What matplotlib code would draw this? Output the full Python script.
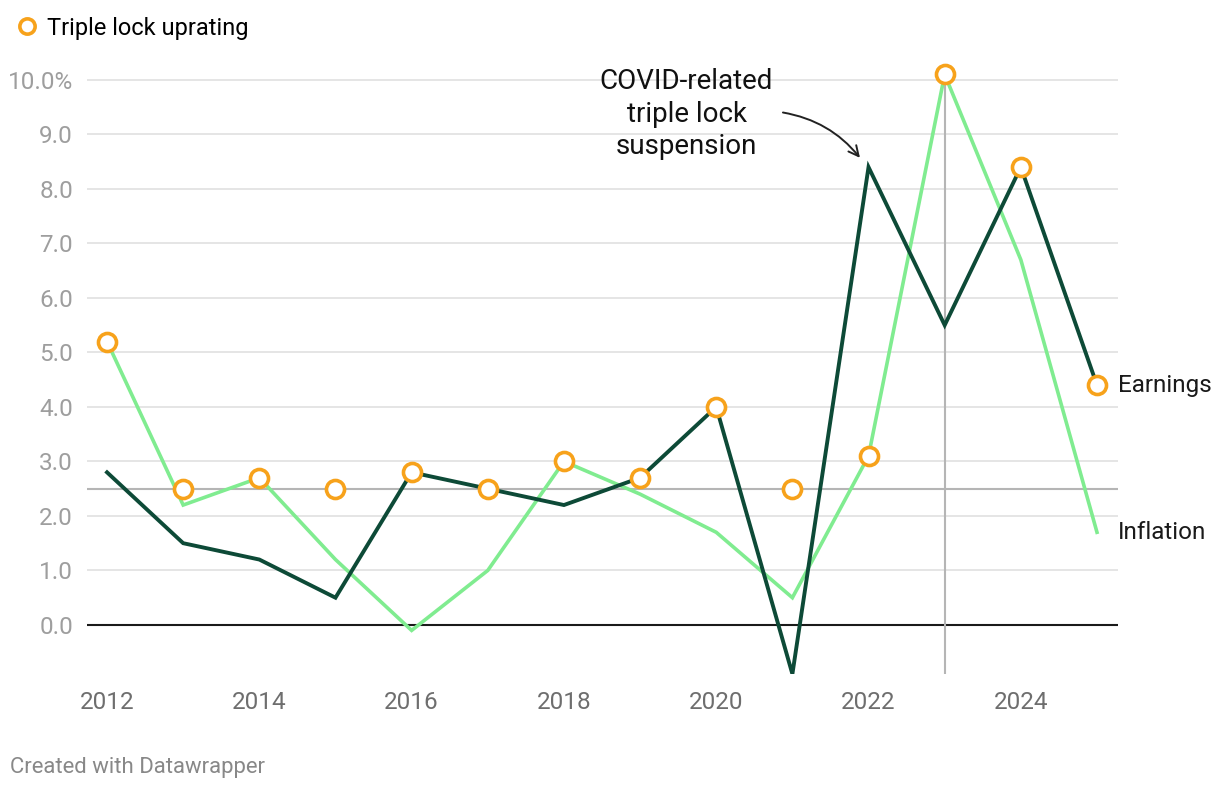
import matplotlib
matplotlib.use("Agg")
import matplotlib.pyplot as plt
from matplotlib.lines import Line2D

plt.rcParams['font.family'] = ['Roboto', 'DejaVu Sans']

years = list(range(2012, 2026))
earnings = [2.8, 1.5, 1.2, 0.5, 2.8, 2.5, 2.2, 2.7, 4.0, -0.9, 8.4, 5.5, 8.4, 4.4]
inflation = [5.2, 2.2, 2.7, 1.2, -0.1, 1.0, 3.0, 2.4, 1.7, 0.5, 3.1, 10.1, 6.7, 1.7]
triple_lock = [5.2, 2.5, 2.7, 2.5, 2.8, 2.5, 3.0, 2.7, 4.0, 2.5, 3.1, 10.1, 8.4, 4.4]
y_ticks = [0, 1, 2, 3, 4, 5, 6, 7, 8, 9, 10]
y_tick_labels = ["0.0", "1.0", "2.0", "3.0", "4.0", "5.0", "6.0", "7.0", "8.0", "9.0", "10.0%"]
x_ticks = [2012, 2014, 2016, 2018, 2020, 2022, 2024]
floor_line = 2.5
marker_year = 2023

C_EARN = "#0d4a37"
C_INFL = "#80ec90"
C_TL = "#f7a21b"

fig = plt.figure(figsize=(12.2, 7.9), dpi=100)
ax = fig.add_axes([87/1220, (790-674)/790, (1118-87)/1220, (674-69)/790])
ax.set_xlim(2011.737, 2025.276)
ax.set_ylim(-0.9, 10.2)

for s in ax.spines.values():
    s.set_visible(False)

for t in y_ticks:
    if t == 0:
        continue
    ax.axhline(t, color="#e3e3e3", lw=1.3, zorder=0)
ax.axhline(0, color="#1a1a1a", lw=1.5, zorder=1)
ax.axhline(floor_line, color="#b5b5b5", lw=1.5, zorder=1)
ax.plot([marker_year, marker_year], [-0.88, 10.09], color="#b5b5b5", lw=1.5, zorder=1)

ax.plot(years, inflation, color=C_INFL, lw=2.6, zorder=3, solid_joinstyle='miter')
ax.plot(years, earnings, color=C_EARN, lw=2.8, zorder=4, solid_joinstyle='miter')
ax.plot(years, triple_lock, linestyle='none', marker='o', ms=13, mfc='white', mec=C_TL,
        mew=2.6, zorder=5, clip_on=False)

ax.set_yticks(y_ticks)
ax.set_yticklabels(y_tick_labels)
ax.set_xticks(x_ticks)
ax.set_xticklabels([str(x) for x in x_ticks])
ax.tick_params(axis='y', length=0, pad=10, labelsize=17.5, labelcolor="#9e9e9e")
ax.tick_params(axis='x', length=0, pad=12, labelsize=17.5, labelcolor="#6e6e6e")

ax.text(2025.276, earnings[-1], "Earnings", fontsize=17.5, color="#1a1a1a",
        va='center', ha='left')
ax.text(2025.276, inflation[-1], "Inflation", fontsize=17.5, color="#1a1a1a",
        va='center', ha='left')

ax.text(2019.61, 9.37, "COVID-related\ntriple lock\nsuspension", fontsize=20,
        color="#111111", ha='center', va='center', linespacing=1.26)
ax.annotate("", xy=(2021.91, 8.53), xytext=(2020.84, 9.41),
            arrowprops=dict(arrowstyle="->", color="#222222", lw=1.4,
                            connectionstyle="arc3,rad=-0.2", mutation_scale=18))

fig.legend(handles=[Line2D([], [], linestyle='none', marker='o', ms=11, mfc='white',
                           mec=C_TL, mew=2.6)],
           labels=["Triple lock uprating"], loc='upper left',
           bbox_to_anchor=(-0.005, 1.0), frameon=False, fontsize=17,
           handletextpad=0.15, borderaxespad=0.3, handlelength=1.4)

fig.text(10/1220, 1 - 767/790, "Created with Datawrapper", fontsize=15.9,
         color="#888888", ha='left', va='center')

fig.savefig("out.png", dpi=100)
